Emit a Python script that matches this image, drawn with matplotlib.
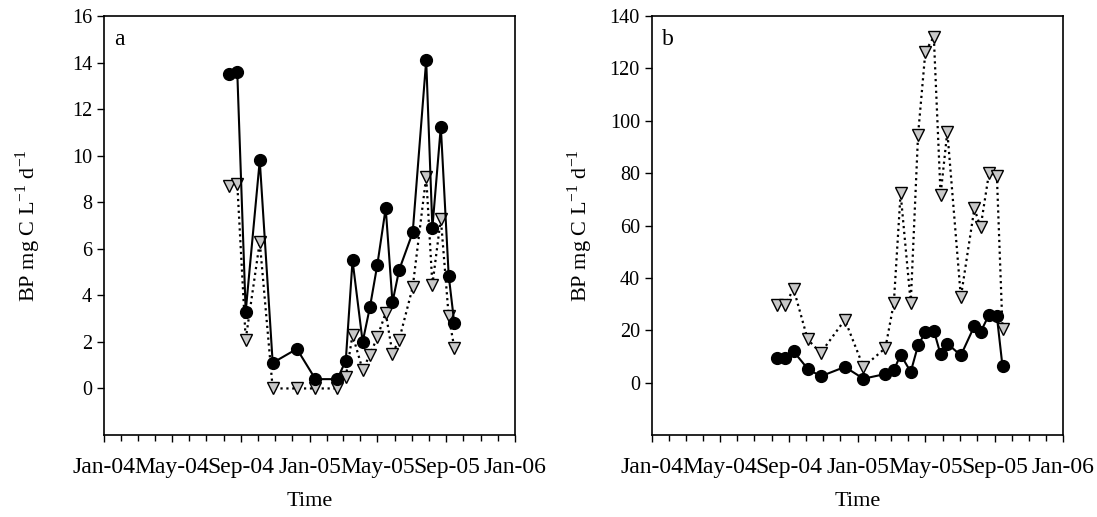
import numpy as np
import matplotlib
matplotlib.use("Agg")
import matplotlib.pyplot as plt
import matplotlib.dates as mdates

plt.rcParams['font.family'] = ['Liberation Serif', 'DejaVu Serif']

# sampling dates (same for both panels)
fechas = np.array(["2004-08-11", "2004-08-25", "2004-09-09", "2004-10-04", "2004-10-27",
                   "2004-12-09", "2005-01-11", "2005-02-19", "2005-03-06", "2005-03-18",
                   "2005-04-05", "2005-04-18", "2005-05-01", "2005-05-16", "2005-05-28",
                   "2005-06-09", "2005-07-03", "2005-07-27", "2005-08-07", "2005-08-22",
                   "2005-09-05", "2005-09-15"], dtype="datetime64[D]")

# panel a
a_circulos = [13.5, 13.6, 3.3, 9.8, 1.1, 1.7, 0.4, 0.4, 1.2, 5.5, 2.0,
              3.5, 5.3, 7.75, 3.7, 5.1, 6.7, 14.1, 6.9, 11.25, 4.85, 2.8]
a_triangulos = [8.7, 8.8, 2.1, 6.3, 0.0, 0.0, 0.0, 0.0, 0.5, 2.3, 0.8,
                1.45, 2.2, 3.25, 1.5, 2.1, 4.35, 9.1, 4.45, 7.3, 3.1, 1.75]

# panel b
b_circulos = [9.5, 9.5, 11.9, 5.3, 2.4, 6.0, 1.5, 3.3, 4.7, 10.7, 4.1,
              14.2, 19.3, 19.9, 10.8, 14.9, 10.4, 21.6, 19.3, 25.9, 25.3, 6.2]
b_triangulos = [29.5, 29.8, 35.8, 16.5, 11.3, 24.0, 6.0, 13.2, 30.5, 72.3, 30.4,
                94.6, 126.4, 132.1, 71.7, 95.9, 32.6, 66.5, 59.3, 80.0, 79.0, 20.6]

paneles = [("a", a_circulos, a_triangulos, (-2, 16), np.arange(0, 17, 2), -0.148),
           ("b", b_circulos, b_triangulos, (-20, 140), np.arange(0, 141, 20), -0.138)]

fig = plt.figure(figsize=(10.97, 5.17), dpi=100)
posiciones = [[0.0948, 0.1586, 0.3747, 0.8104], [0.5941, 0.1586, 0.3752, 0.8104]]

for pos, (letra, circ, tri, ylim, yt, xlab) in zip(posiciones, paneles):
    ax = fig.add_axes(pos)
    ax.plot(fechas, tri, linestyle=":", color="black", linewidth=1.6,
            marker="v", markersize=9, markerfacecolor="#c8c8c8",
            markeredgecolor="black", markeredgewidth=1.0)
    ax.plot(fechas, circ, linestyle="-", color="black", linewidth=1.5,
            marker="o", markersize=8.5, markerfacecolor="black",
            markeredgecolor="black")

    ax.set_xlim(np.datetime64("2004-01-01"), np.datetime64("2006-01-01"))
    ax.set_ylim(*ylim)
    ax.set_yticks(yt)
    ax.xaxis.set_major_locator(mdates.MonthLocator(bymonth=[1, 5, 9]))
    ax.xaxis.set_minor_locator(mdates.MonthLocator())
    ax.xaxis.set_major_formatter(mdates.DateFormatter("%b-%y"))

    ax.tick_params(axis="x", which="major", labelsize=17, length=5, width=1, pad=11)
    ax.tick_params(axis="x", which="minor", length=4, width=1)
    ax.tick_params(axis="y", labelsize=14.5, length=5, width=1)
    for s in ax.spines.values():
        s.set_linewidth(1.2)

    ax.set_xlabel("Time", fontsize=16, labelpad=10)
    ax.set_ylabel(r"BP mg C L$^{\mathregular{-1}}$ d$^{\mathregular{-1}}$", fontsize=16)
    ax.yaxis.set_label_coords(xlab, 0.5)
    ax.text(0.025, 0.945, letra, transform=ax.transAxes, fontsize=17, va="center", ha="left")

fig.savefig("out.png", dpi=100)
